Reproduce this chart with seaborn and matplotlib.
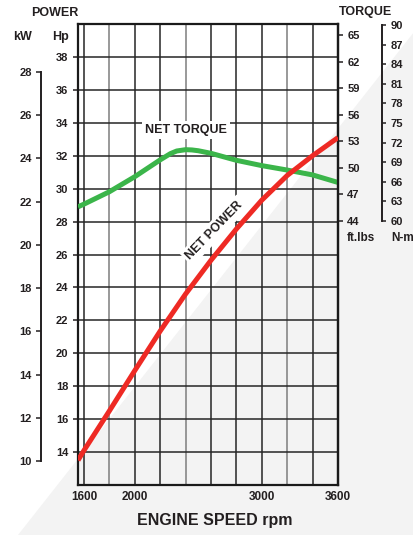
import matplotlib
matplotlib.use("Agg")
import matplotlib.pyplot as plt
from matplotlib.patches import Polygon
import seaborn as sns

# engine speed (rpm) and curves
rpm = [1553, 1600, 1800, 2000, 2200, 2400, 2600, 2800, 3000, 3200, 3400, 3600]
net_power_hp = [13.5, 14.1, 16.5, 18.95, 21.35, 23.6, 25.65, 27.55, 29.3, 30.8, 32.0, 33.1]

torque_rpm = [1553, 1600, 1800, 2000, 2200, 2280, 2330, 2400, 2450, 2500, 2600,
              2800, 3000, 3200, 3400, 3600]
net_torque_ftlb = [45.6, 45.9, 47.3, 49.0, 50.9, 51.6, 51.9, 52.05, 52.02, 51.93, 51.64,
                   50.85, 50.25, 49.75, 49.2, 48.35]

# axes ticks / labels
grid_rpm = [1600, 1800, 2000, 2200, 2400, 2600, 2800, 3000, 3200, 3400, 3600]
rpm_labels = ['1600', '', '2000', '', '', '', '', '3000', '', '', '3600']
hp_ticks = list(range(14, 39, 2))
kw_ticks = list(range(10, 29, 2))
ftlb_ticks = list(range(44, 66, 3))
nm_ticks = list(range(60, 91, 3))

sns.set_style("white")
plt.rcParams['font.family'] = ['Liberation Sans', 'DejaVu Sans']
plt.rcParams['font.weight'] = 'bold'

W, H = 414, 535
INK = '#231f20'
fig = plt.figure(figsize=(W / 100, H / 100), dpi=100)
fig.patch.set_facecolor('white')

# light grey diagonal backdrop
bg = Polygon([(18 / W, 0), (1, 1 - 32 / H), (1, 0)], closed=True,
             transform=fig.transFigure, facecolor='#f3f3f3', edgecolor='none', zorder=-1)
fig.add_artist(bg)

rect = [78 / W, 1 - 485 / H, 260 / W, 461 / H]
ax = fig.add_axes(rect)
ax.patch.set_visible(False)
ax.set_xlim(1553, 3600)
ax.set_ylim(12, 40)

# grid
ax.set_xticks(grid_rpm)
ax.set_xticklabels(rpm_labels)
ax.set_yticks(hp_ticks)
ax.grid(True, color='#262626', linewidth=1.1)
for gl, r in zip(ax.get_xgridlines(), grid_rpm):
    if r in (1800, 2400, 3200):
        gl.set_color('#7d7d7d')
ax.tick_params(axis='x', length=0, pad=4, labelsize=8.5, labelcolor=INK)
ax.tick_params(axis='y', left=True, length=3.8, width=1.1, pad=3.2,
               labelsize=8, labelcolor=INK, color=INK)
for s in ax.spines.values():
    s.set_linewidth(1.6)
    s.set_color('#1a1a1a')

# ft.lbs torque axis on frame's right edge
ax_t = ax.twinx()
ax_t.set_ylim(14.19, 66.24)
ax_t.set_yticks(ftlb_ticks)
ax_t.tick_params(axis='y', right=True, length=3.8, width=1.1, pad=2.8,
                 labelsize=8, labelcolor=INK, color=INK)
for k, s in ax_t.spines.items():
    s.set_visible(k == 'right')
ax_t.spines['right'].set_linewidth(1.6)
ax_t.spines['right'].set_color('#1a1a1a')

# kW axis, offset left
ax_kw = ax.twinx()
ax_kw.set_ylim(8.889, 30.221)
for k, s in ax_kw.spines.items():
    s.set_visible(k == 'left')
ax_kw.spines['left'].set_position(('axes', -37 / 260))
ax_kw.spines['left'].set_bounds(10, 28)
ax_kw.spines['left'].set_linewidth(1.4)
ax_kw.spines['left'].set_color(INK)
ax_kw.yaxis.set_ticks_position('left')
ax_kw.yaxis.set_label_position('left')
ax_kw.set_yticks(kw_ticks)
ax_kw.tick_params(axis='y', length=3.8, width=1.1, pad=2.8,
                  labelsize=8, labelcolor=INK, color=INK)

# N-m axis, offset right
ax_nm = ax.twinx()
ax_nm.set_ylim(19.59, 90.15)
for k, s in ax_nm.spines.items():
    s.set_visible(k == 'right')
ax_nm.spines['right'].set_position(('axes', (382 - 78) / 260))
ax_nm.spines['right'].set_bounds(60, 90)
ax_nm.spines['right'].set_linewidth(1.4)
ax_nm.spines['right'].set_color(INK)
ax_nm.set_yticks(nm_ticks)
ax_nm.tick_params(axis='y', right=True, length=3.2, width=1.1, pad=2.8,
                  labelsize=8, labelcolor=INK, color=INK)

# curves
sns.lineplot(x=torque_rpm, y=net_torque_ftlb, ax=ax_t, color='#3bb54a',
             linewidth=3.6, solid_capstyle='butt', solid_joinstyle='round')
ax_p = ax.twinx()
ax_p.set_ylim(12, 40)
ax_p.axis('off')
sns.lineplot(x=rpm, y=net_power_hp, ax=ax_p, color='#ee2a24',
             linewidth=3.6, solid_capstyle='butt', solid_joinstyle='round')

box = dict(boxstyle='square,pad=0.25', facecolor='white', edgecolor='none')
ax_p.text(2405, 33.57, 'NET TORQUE', ha='center', va='center', fontsize=9,
          fontweight='bold', color=INK, bbox=box, zorder=5)
ax_p.text(2628, 27.46, 'NET POWER', ha='center', va='center', fontsize=9,
          fontweight='bold', color=INK, rotation=46, rotation_mode='anchor',
          bbox=box, zorder=5)

# outer titles
def ftext(x, y, s, size=9, ha='center'):
    fig.text(x / W, 1 - y / H, s, ha=ha, va='center', fontsize=size,
             fontweight='bold', color=INK)

ftext(55, 12.8, 'POWER')
ftext(23, 37.3, 'kW')
ftext(60.5, 37.3, 'Hp')
ftext(365.5, 12.5, 'TORQUE')
ftext(347, 238, 'ft.lbs', size=8.5, ha='left')
ftext(391, 238, 'N-m', size=8.5, ha='left')
ftext(215, 521, 'ENGINE SPEED rpm', size=11.5)

fig.savefig('out.png', dpi=100, facecolor='white')
